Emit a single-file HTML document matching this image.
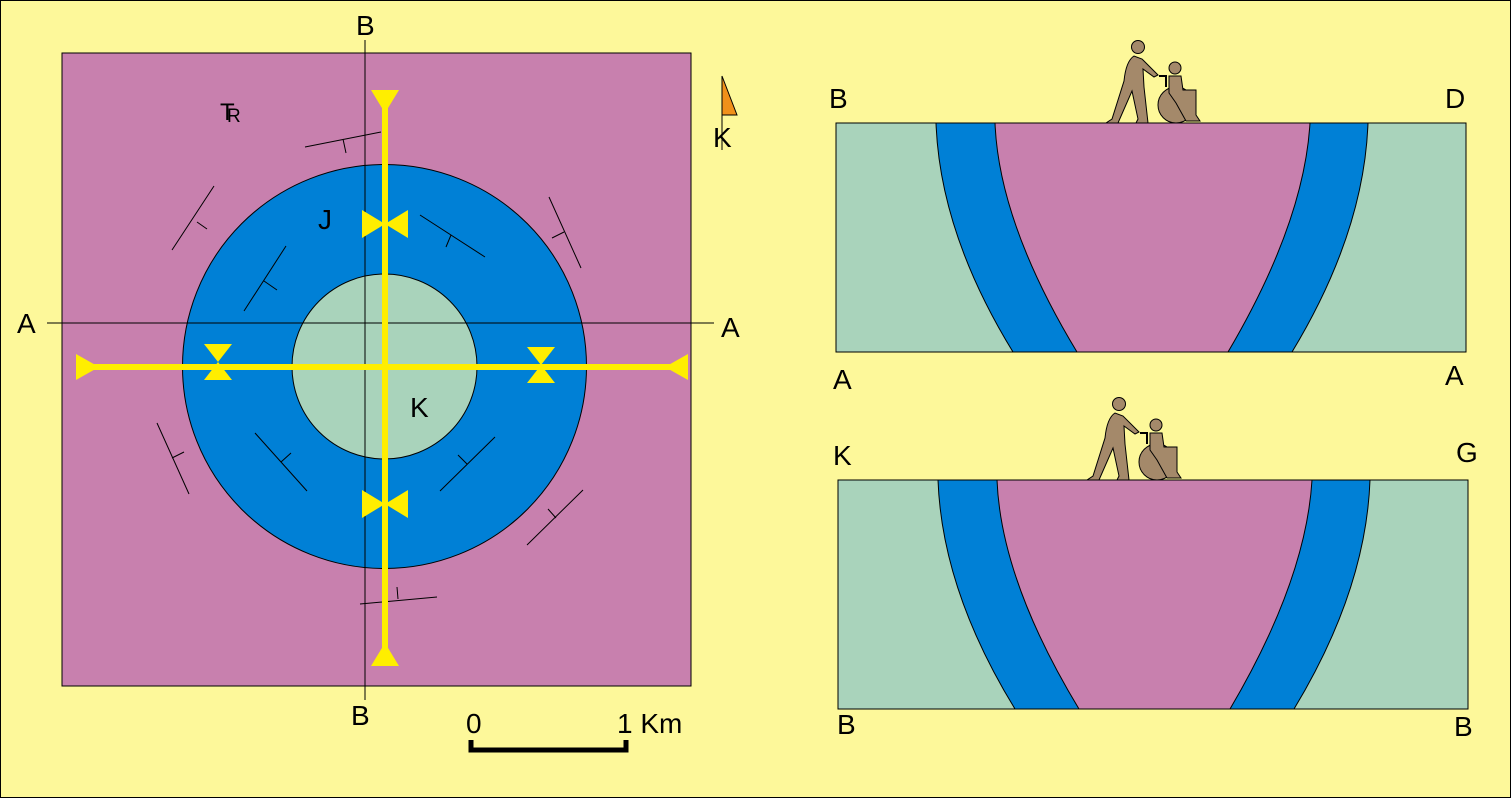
<!DOCTYPE html>
<html><head><meta charset="utf-8"><style>
html,body{margin:0;padding:0;background:#fff}
svg{display:block}
text{font-family:"Liberation Sans",sans-serif;fill:#000}
</style></head><body>
<svg width="1512" height="799" viewBox="0 0 1512 799" xmlns="http://www.w3.org/2000/svg">
<rect x="0.5" y="0.5" width="1510" height="797" fill="#fdf89a" stroke="#000" stroke-width="1"/>
<rect x="62" y="53" width="629" height="633" fill="#c880ae" stroke="#000" stroke-width="1"/>
<circle cx="384.5" cy="366.5" r="202" fill="#0080d6" stroke="#000" stroke-width="1"/>
<circle cx="384.5" cy="366.5" r="92.5" fill="#a9d3bb" stroke="#000" stroke-width="1"/>
<line x1="365" y1="40" x2="365" y2="700" stroke="#000" stroke-width="1"/>
<line x1="47" y1="323" x2="714" y2="323" stroke="#000" stroke-width="1"/>
<g stroke="#000" stroke-width="1" fill="none">
<path d="M305,147 L381,132 M343,139 L346,153"/>
<path d="M214,186 L172,250 M197,222 L207,229"/>
<path d="M286,246 L244,311 M264,281 L277,290"/>
<path d="M420,215 L485,257 M451,235 L446,247"/>
<path d="M549,197 L581,268 M564,232 L552,238"/>
<path d="M157,423 L189,494 M172,458 L184,452"/>
<path d="M255,433 L307,491 M281,462 L291,453"/>
<path d="M495,437 L440,491 M467,464 L458,455"/>
<path d="M583,490 L527,545 M556,518 L548,509"/>
<path d="M360,604 L437,597 M398,599 L397,587"/>
</g>
<g fill="#ffee00">
<rect x="382" y="100" width="6" height="548"/>
<rect x="88" y="364" width="590" height="6"/>
<polygon points="371,90 399,90 385,113"/>
<polygon points="371,666 399,666 385,643"/>
<polygon points="76,354 76,380 99,367"/>
<polygon points="688,354 688,380 665,367"/>
<polygon points="362,210 362,238 385,224 408,210 408,238 385,224"/>
<polygon points="362,490 362,518 385,504 408,490 408,518 385,504"/>
<polygon points="204,344 232,344 218,362 232,380 204,380 218,362"/>
<polygon points="527,347 555,347 541,365 555,383 527,383 541,365"/>
</g>
<text x="356" y="35" font-size="28">B</text>
<text x="351" y="725" font-size="28">B</text>
<text x="17" y="333" font-size="28">A</text>
<text x="721" y="337" font-size="28">A</text>
<text x="318" y="229" font-size="28">J</text>
<text x="410" y="417" font-size="28">K</text>
<text x="220" y="120" font-size="24">T</text>
<text x="227" y="122" font-size="19">R</text>
<polygon points="722,76 737,115 722,115" fill="#f0901a" stroke="#000" stroke-width="1"/>
<line x1="722" y1="76" x2="722" y2="150" stroke="#000" stroke-width="1"/>
<text x="713" y="147" font-size="28">K</text>
<text x="466" y="733" font-size="28">0</text>
<text x="617" y="733" font-size="28">1 Km</text>
<path d="M471,740 L471,750 L626,750 L626,740" stroke="#000" stroke-width="5" fill="none"/>
<defs>
<g id="sec">
<rect x="0" y="0" width="630" height="229" fill="#a9d3bb" stroke="#000" stroke-width="1"/>
<path d="M100,0 L532,0 Q528,110 456,229 L177,229 Q104,110 100,0 Z" fill="#0080d6" stroke="#000" stroke-width="1"/>
<path d="M159,0 L474,0 Q468,100 392,229 L241,229 Q163,100 159,0 Z" fill="#c880ae" stroke="#000" stroke-width="1"/>
</g>
<g id="fig" fill="#a4896a" stroke="#000" stroke-width="1">
<circle cx="302" cy="-76" r="6.5"/>
<path d="M298,-67 Q290,-62 288,-42 L276,-4 L270,0 L282,0 L296,-32 L302,-4 L300,0 L312,0 L308,-36 L307,-54 L318,-46 L322,-48 L306,-64 Z"/>
<circle cx="339" cy="-55" r="6"/>
<circle cx="340" cy="-18" r="18"/>
<path d="M333,-47 L345,-47 L347,-33 L360,-33 L360,-8 L364,-2 L350,-2 L340,-20 L333,-30 Z"/>
<path d="M323,-47 L330,-47 L330,-36" fill="none" stroke-width="2"/>
</g>
</defs>
<use href="#sec" transform="translate(836,123)"/>
<use href="#sec" transform="translate(838,480)"/>
<use href="#fig" transform="translate(836,123)"/>
<use href="#fig" transform="translate(817,480)"/>
<text x="829" y="108" font-size="28">B</text>
<text x="1445" y="108" font-size="28">D</text>
<text x="833" y="389" font-size="28">A</text>
<text x="1445" y="385" font-size="28">A</text>
<text x="833" y="465" font-size="28">K</text>
<text x="1456" y="462" font-size="28">G</text>
<text x="837" y="734" font-size="28">B</text>
<text x="1454" y="736" font-size="28">B</text>
</svg>
</body></html>
